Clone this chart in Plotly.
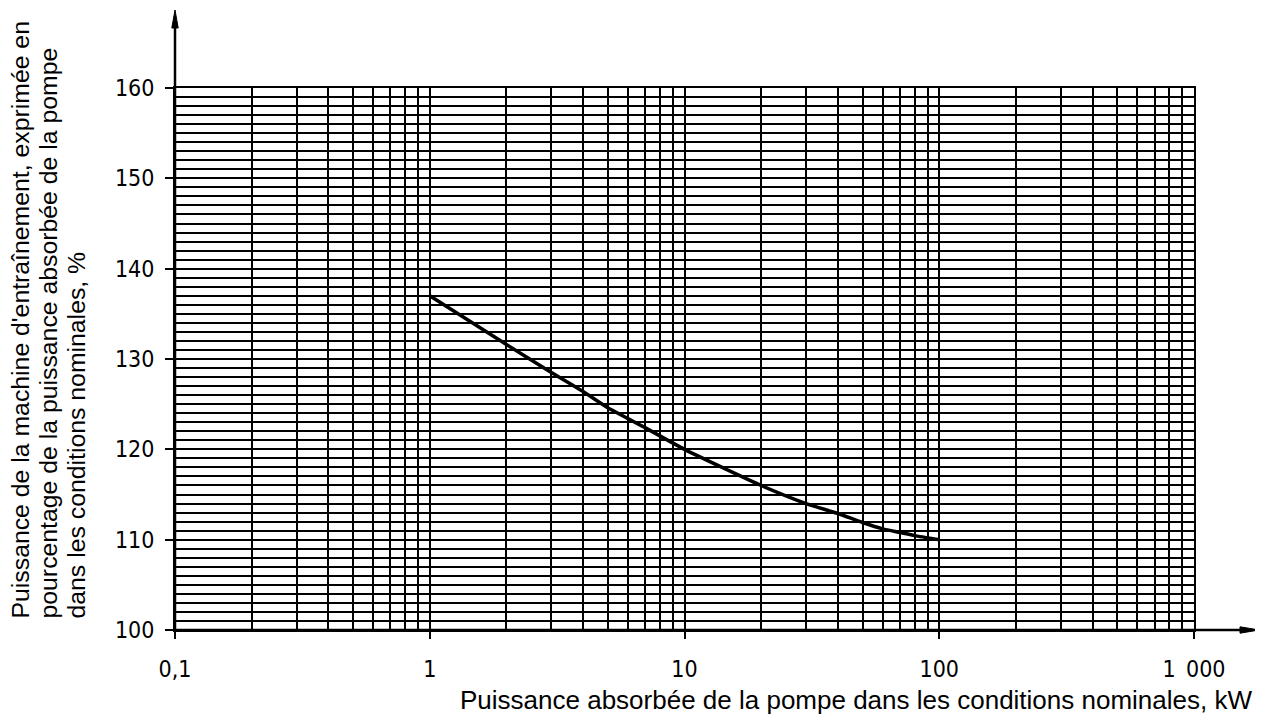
import plotly.graph_objects as go

# ---- data ----
power_kw = [1, 2, 3, 4, 5, 6, 7, 10, 20, 30, 40, 50, 60, 70, 80, 100]
drive_pct = [137.0, 131.6, 128.5, 126.4, 124.6, 123.4, 122.4, 120.0, 116.0, 114.0, 112.9, 111.9, 111.2, 110.8, 110.45, 110.0]

x_major = [0.1, 1, 10, 100, 1000]
x_major_text = ["0,1", "1", "10", "100", "1\u2002000"]
x_minor = [m * d for d in [0.1, 1, 10, 100] for m in range(2, 10)]
y_major = [100, 110, 120, 130, 140, 150, 160]
y_major_text = ["100", "110", "120", "130", "140", "150", "160"]

x_title = "Puissance absorbée de la pompe dans les conditions nominales, kW"
y_title_lines = [
    "Puissance de la machine d'entraînement, exprimée en",
    "pourcentage de la puissance absorbée de la pompe",
    "dans les conditions nominales, %",
]

# ---- layout geometry (page pixels; page body has an 8px margin) ----
OFF = 8
PAGE_W, PAGE_H = 1263, 717
W, H = PAGE_W - OFF, PAGE_H - OFF
PL, PR, PT, PB = 175, 1194, 88, 630  # plot area edges in page pixels
L, T = PL - OFF, PT - OFF
R, B = PAGE_W - PR, PAGE_H - PB
PW, PH = PR - PL, PB - PT


def px_x(px):
    return (px - PL) / PW


def px_y(py):
    return (PB - py) / PH


tick_font = dict(family="Liberation Sans Narrow, DejaVu Sans Condensed, Liberation Sans",
                 size=23, color="black")
xtitle_font = dict(family="Liberation Sans, Arial", size=26, color="black")
ytitle_font = dict(family="Liberation Sans, Arial", size=24.8, color="black")

fig = go.Figure()
fig.add_trace(go.Scatter(
    x=power_kw, y=drive_pct, mode="lines",
    line=dict(color="black", width=3.5, shape="spline", smoothing=0.5),
    showlegend=False, hoverinfo="skip",
))

fig.update_xaxes(
    type="log", range=[-1, 3],
    tickmode="array", tickvals=x_major, ticktext=x_major_text,
    ticks="outside", ticklen=7, tickwidth=2, tickcolor="black",
    tickfont=tick_font, ticklabelstandoff=10,
    showgrid=True, gridcolor="black", gridwidth=2,
    minor=dict(tickmode="array", tickvals=x_minor, showgrid=True,
               gridcolor="black", gridwidth=2, ticks=""),
    showline=True, mirror=True, linecolor="black", linewidth=2,
    zeroline=False,
)
fig.update_yaxes(
    range=[100, 160],
    tickmode="array", tickvals=y_major, ticktext=y_major_text,
    ticks="outside", ticklen=8, tickwidth=2, tickcolor="black",
    tickfont=tick_font, ticklabelstandoff=6,
    showgrid=True, gridcolor="black", gridwidth=2,
    minor=dict(dtick=1, showgrid=True, gridcolor="black", gridwidth=2, ticks=""),
    showline=True, mirror=True, linecolor="black", linewidth=2,
    zeroline=False,
)

shapes = []
# y axis line with arrow
shapes.append(dict(type="line", xref="paper", yref="paper",
                   x0=0, y0=0, x1=0, y1=px_y(26), line=dict(color="black", width=2.5), layer="above"))
shapes.append(dict(type="path", xref="paper", yref="paper",
                   path=f"M{px_x(PL-3.2)},{px_y(28)} L{px_x(PL+3.2)},{px_y(28)} L{px_x(PL)},{px_y(10)} Z",
                   fillcolor="black", line=dict(color="black", width=1), layer="above"))
# x axis line with arrow
shapes.append(dict(type="line", xref="paper", yref="paper",
                   x0=0, y0=0, x1=px_x(1242), y1=0, line=dict(color="black", width=2.5), layer="above"))
shapes.append(dict(type="path", xref="paper", yref="paper",
                   path=f"M{px_x(1240)},{px_y(PB-3.2)} L{px_x(1240)},{px_y(PB+3.2)} L{px_x(1259)},{px_y(PB)} Z",
                   fillcolor="black", line=dict(color="black", width=1), layer="above"))

annotations = [dict(
    text=x_title, xref="paper", yref="paper", x=px_x(1254), y=px_y(700),
    xanchor="right", yanchor="middle", showarrow=False, font=xtitle_font,
)]
for i, line in enumerate(y_title_lines):
    annotations.append(dict(
        text=line, xref="paper", yref="paper", x=px_x(20 + 28 * i), y=px_y(621),
        xanchor="center", yanchor="bottom", textangle=-90, showarrow=False,
        font=ytitle_font,
    ))

fig.update_layout(
    width=W, height=H,
    margin=dict(l=L, r=R, t=T, b=B),
    paper_bgcolor="white", plot_bgcolor="white",
    shapes=shapes, annotations=annotations,
)

fig.write_html("out.html")
